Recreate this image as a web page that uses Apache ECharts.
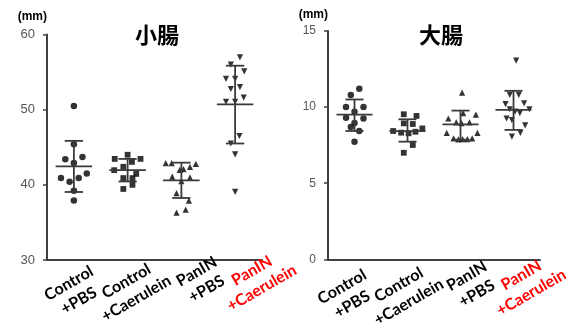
<!DOCTYPE html>
<html><head><meta charset="utf-8">
<script src="https://cdn.jsdelivr.net/npm/echarts@6/dist/echarts.min.js"></script>
<style>html,body{margin:0;padding:0;background:#fff}#c{width:576px;height:329px}</style>
</head><body><div id="c"></div>
<script>
// ---- data ----
var categories = ['Control\n+PBS', 'Control\n+Caerulein', 'PanIN\n+PBS', 'PanIN\n+Caerulein'];
var smallTitle = '小腸';
var largeTitle = '大腸';
var unitLabel = '(mm)';
var smallTicks = [30, 40, 50, 60];
var largeTicks = [0, 5, 10, 15];

// small intestine (小腸) individual values and horizontal jitter (category units)
var smCtrlPbs = [50.5, 45.4, 43.7, 43.4, 42.9, 41.5, 40.9, 40.9, 40.4, 39.2, 37.9];
var smCtrlPbsJ = [0, 0, 0.16, -0.16, 0, 0.24, -0.24, 0.09, -0.08, 0, 0];
var smCtrlCae = [44.0, 43.45, 43.45, 43.05, 42.4, 41.95, 41.45, 40.9, 40.9, 40.0, 39.45];
var smCtrlCaeJ = [0, -0.24, 0.24, 0.08, -0.08, -0.25, 0.16, -0.08, 0.09, 0.09, -0.08];
var smPanPbs = [42.9, 42.9, 42.8, 42.4, 42.0, 42.1, 41.1, 41.0, 40.5, 38.9, 37.9, 36.7, 36.3];
var smPanPbsJ = [-0.29, -0.18, 0.27, 0.16, -0.03, 0.04, -0.17, 0.16, 0, -0.09, 0.14, 0.08, -0.09];
var smPanCae = [56.95, 56.0, 55.1, 54.1, 54.1, 52.75, 53.0, 51.05, 51.05, 51.6, 46.5, 45.5, 44.05, 39.05];
var smPanCaeJ = [0.09, -0.08, 0.17, -0.17, 0, -0.08, 0.09, -0.17, 0, 0.16, 0.08, -0.08, 0, 0];
var smMean = [42.45, 41.95, 40.6, 50.7];
var smUpper = [45.85, 43.45, 42.95, 55.85];
var smLower = [39.05, 40.45, 38.25, 45.5];

// large intestine (大腸)
var liCtrlPbs = [11.2, 10.8, 10.0, 10.0, 9.7, 9.3, 9.25, 8.95, 8.7, 8.43, 7.72];
var liCtrlPbsJ = [0.09, -0.07, -0.16, 0.17, 0, -0.16, 0.17, 0, -0.07, 0.09, 0];
var liCtrlCae = [9.53, 9.42, 8.89, 8.93, 8.6, 8.43, 8.32, 8.38, 8.28, 7.51, 7.0];
var liCtrlCaeJ = [-0.07, 0.17, 0.1, -0.07, 0.28, -0.27, -0.12, 0.15, 0.02, 0.1, -0.07];
var liPanPbs = [10.95, 9.6, 9.5, 9.25, 9.0, 9.0, 8.95, 8.3, 8.3, 7.95, 7.88, 7.9, 7.9, 7.95];
var liPanPbsJ = [0.03, 0.05, 0.29, -0.23, -0.08, 0.17, 0.02, -0.26, 0.32, -0.13, -0.04, 0.04, 0.13, 0.22];
var liPanCae = [13.05, 10.8, 10.8, 10.25, 10.2, 9.86, 9.86, 9.7, 9.6, 9.25, 9.15, 8.8, 8.3, 8.06];
var liPanCaeJ = [0.05, -0.07, 0.1, 0.2, -0.15, -0.07, 0.3, 0.03, 0.12, -0.13, -0.03, 0.22, 0.13, -0.03];
var liMean = [9.5, 8.42, 8.87, 9.82];
var liUpper = [10.5, 9.2, 9.77, 11.07];
var liLower = [8.43, 7.73, 7.86, 8.5];

// ---- layout (label nudges, px, not data) ----
var smLabelShift = [0, 5, 27, 29];
var liLabelShift = [-10, -5, 15, 17];

// ---- build ----
function pts(ci, vals, jit) {
  return vals.map(function (v, i) { return [ci + jit[i], v]; });
}
function errRows(mean, lo, hi) {
  return mean.map(function (m, i) { return [i, m, lo[i], hi[i]]; });
}
var LINE = '#3a3a3a';
function renderErr(params, api) {
  var x = api.value(0);
  var pM = api.coord([x, api.value(1)]);
  var pL = api.coord([x, api.value(2)]);
  var pH = api.coord([x, api.value(3)]);
  var unit = api.size([1, 0])[0];
  var hw = unit * 0.34, cw = unit * 0.17;
  var st = { stroke: LINE, lineWidth: 1.8 };
  return { type: 'group', children: [
    { type: 'line', shape: { x1: pL[0], y1: pL[1], x2: pH[0], y2: pH[1] }, style: st },
    { type: 'line', shape: { x1: pM[0] - hw, y1: pM[1], x2: pM[0] + hw, y2: pM[1] }, style: st },
    { type: 'line', shape: { x1: pH[0] - cw, y1: pH[1], x2: pH[0] + cw, y2: pH[1] }, style: st },
    { type: 'line', shape: { x1: pL[0] - cw, y1: pL[1], x2: pL[0] + cw, y2: pL[1] }, style: st }
  ] };
}
var symbols = [
  { symbol: 'circle', size: 6.5, rotate: 0 },
  { symbol: 'rect', size: 5.8, rotate: 0 },
  { symbol: 'triangle', size: 6.2, rotate: 0 },
  { symbol: 'triangle', size: 6.2, rotate: 180 }
];
function scatterSeries(xi, yi, groups) {
  return groups.map(function (g, ci) {
    return {
      type: 'scatter', xAxisIndex: xi, yAxisIndex: yi,
      symbol: symbols[ci].symbol, symbolSize: symbols[ci].size, symbolRotate: symbols[ci].rotate,
      itemStyle: { color: '#000' }, silent: true, z: 2,
      data: pts(ci, g[0], g[1])
    };
  });
}
// shift a 30deg-rotated, centre-aligned label horizontally by dx pixels via padding
function shiftPadding(dx) {
  var a = 0.866 * dx, b = 0.5 * dx;
  return [b > 0 ? 2 * b : 0, a < 0 ? -2 * a : 0, b < 0 ? -2 * b : 0, a > 0 ? 2 * a : 0];
}
var labelFont = { fontFamily: 'Lato', fontWeight: 'bold', fontSize: 16, lineHeight: 20 };
function catAxis(gi, shifts) {
  return {
    type: 'category', gridIndex: gi, boundaryGap: true,
    data: categories.map(function (c, i) {
      return { value: c, textStyle: {
        align: 'center', verticalAlign: 'middle',
        fontFamily: labelFont.fontFamily, fontWeight: labelFont.fontWeight,
        fontSize: labelFont.fontSize, lineHeight: labelFont.lineHeight,
        color: i === 3 ? '#ff0000' : '#000000',
        padding: shiftPadding(shifts[i]) } };
    }),
    axisLine: { onZero: false, lineStyle: { color: '#404040', width: 2 } },
    axisTick: { alignWithLabel: true, length: 4, lineStyle: { color: '#404040', width: 1.5 } },
    axisLabel: {
      interval: 0, rotate: 30, align: 'center', verticalAlign: 'middle', margin: 32,
      hideOverlap: false,
      fontFamily: labelFont.fontFamily, fontWeight: labelFont.fontWeight,
      fontSize: labelFont.fontSize, lineHeight: labelFont.lineHeight,
      color: function (v, i) { return i === 3 ? '#ff0000' : '#000000'; }
    }
  };
}
function valXAxis(gi) {
  return { type: 'value', gridIndex: gi, min: -0.5, max: 3.5, show: false };
}
function yAxis(gi, ticks, fs, gap) {
  return {
    type: 'value', gridIndex: gi, min: ticks[0], max: ticks[ticks.length - 1],
    interval: ticks[1] - ticks[0],
    name: unitLabel, nameLocation: 'end', nameGap: gap,
    nameTextStyle: { fontFamily: 'Liberation Sans', fontWeight: 'bold', fontSize: 12, color: '#000', align: 'right', verticalAlign: 'middle' },
    splitLine: { show: false },
    axisLine: { show: true, onZero: false, lineStyle: { color: '#404040', width: 2 } },
    axisTick: { show: true, length: 4, lineStyle: { color: '#404040', width: 1.5 } },
    axisLabel: { margin: 12, fontFamily: 'Liberation Sans', fontSize: fs, color: '#555555',
      formatter: function (v) { return ticks.indexOf(v) >= 0 ? String(v) : ''; } }
  };
}

var chart = echarts.init(document.getElementById('c'), null, { renderer: 'canvas' });
var series = []
  .concat(scatterSeries(1, 0, [[smCtrlPbs, smCtrlPbsJ], [smCtrlCae, smCtrlCaeJ], [smPanPbs, smPanPbsJ], [smPanCae, smPanCaeJ]]))
  .concat(scatterSeries(3, 1, [[liCtrlPbs, liCtrlPbsJ], [liCtrlCae, liCtrlCaeJ], [liPanPbs, liPanPbsJ], [liPanCae, liPanCaeJ]]))
  .concat([
    { type: 'custom', xAxisIndex: 1, yAxisIndex: 0, renderItem: renderErr, silent: true, z: 3,
      encode: { x: 0, y: [1, 2, 3] }, data: errRows(smMean, smLower, smUpper) },
    { type: 'custom', xAxisIndex: 3, yAxisIndex: 1, renderItem: renderErr, silent: true, z: 3,
      encode: { x: 0, y: [1, 2, 3] }, data: errRows(liMean, liLower, liUpper) }
  ]);

chart.setOption({
  animation: false,
  backgroundColor: '#ffffff',
  title: [
    { text: smallTitle, left: 157, top: 24, textAlign: 'center', padding: 0,
      textStyle: { fontFamily: 'Noto Sans CJK JP', fontWeight: 'bold', fontSize: 22, color: '#000' } },
    { text: largeTitle, left: 441, top: 24, textAlign: 'center', padding: 0,
      textStyle: { fontFamily: 'Noto Sans CJK JP', fontWeight: 'bold', fontSize: 22, color: '#000' } }
  ],
  grid: [
    { left: 47, top: 34.5, width: 215, height: 225.5, containLabel: false, outerBoundsMode: 'none' },
    { left: 328, top: 31, width: 212, height: 228.3, containLabel: false, outerBoundsMode: 'none' }
  ],
  xAxis: [catAxis(0, smLabelShift), valXAxis(0), catAxis(1, liLabelShift), valXAxis(1)],
  yAxis: [yAxis(0, smallTicks, 13, 18), yAxis(1, largeTicks, 12, 16)],
  series: series
});
</script>
</body></html>
